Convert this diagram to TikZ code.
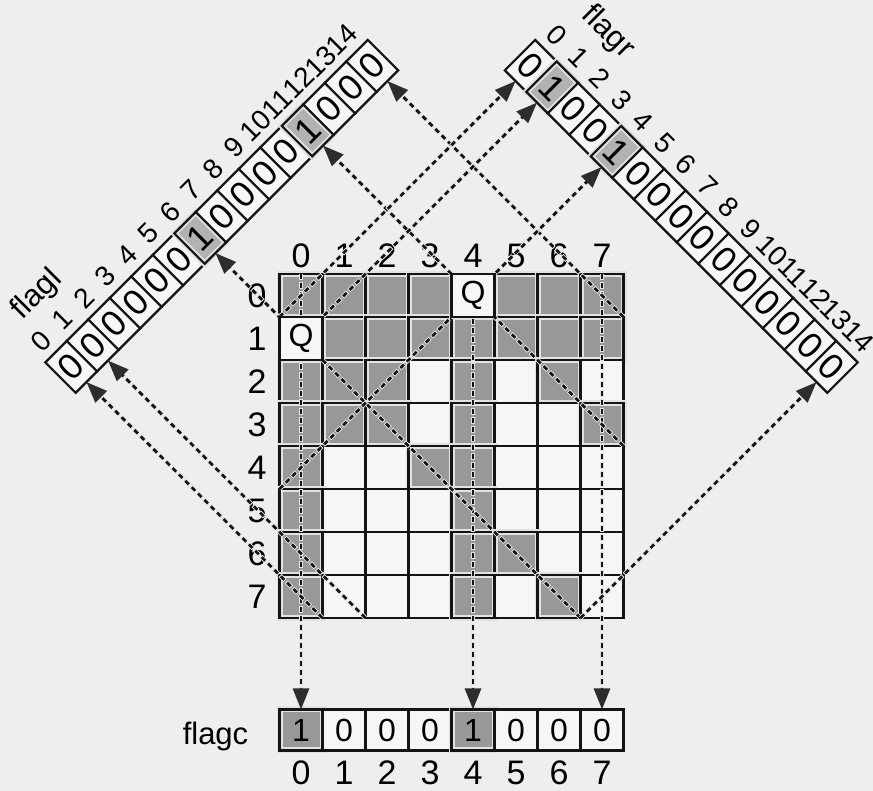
\documentclass[tikz,border=0pt]{standalone}
\usepackage{fontspec}
\setmainfont{Liberation Sans}
\usetikzlibrary{arrows.meta}
\pgfdeclarelayer{fg}
\pgfsetlayers{main,fg}
\definecolor{bgc}{RGB}{238,238,236}
\definecolor{cellw}{RGB}{246,246,244}
\definecolor{halo}{RGB}{226,226,224}
\definecolor{shadeg}{RGB}{152,152,152}
\definecolor{shadel}{RGB}{178,178,178}
\definecolor{ink}{RGB}{20,20,20}
\definecolor{arr}{RGB}{45,45,45}
\newcommand\fsz[1]{\fontsize{#1}{#1}\selectfont}
\tikzset{
  gcell/.style={draw=ink, line width=2.2pt, minimum width=43pt, minimum height=43pt, inner sep=0pt, outer sep=0pt},
  shaded/.style={fill=#1, draw=halo, line width=6pt, postaction={draw=ink, line width=2.2pt}},
  ct-s/.style={shaded=shadeg},
  ct-w/.style={fill=cellw},
  scell/.style={draw=ink, line width=2.2pt, minimum width=30.405pt, minimum height=43pt, inner sep=0pt, outer sep=0pt, font=\fsz{36}},
  ccell/.style={draw=ink, line width=2.2pt, minimum width=43pt, minimum height=41pt, inner sep=0pt, outer sep=0pt, font=\fsz{32}},
  sv-0/.style={fill=cellw},
  sv-1/.style={shaded=shadel},
  cv-0/.style={fill=cellw},
  cv-1/.style={shaded=shadeg},
  biglab/.style={font=\fsz{34}, inner sep=0pt},
  idxlab/.style={font=\fsz{28}, inner sep=0pt},
  namelab/.style={font=\fsz{31}, inner sep=0pt},
  dotl/.style={draw=ink, line width=2.7pt, dash pattern=on 5pt off 4pt,
    preaction={draw=halo, -, shorten >=21pt, line width=4.4pt, dash pattern=on 7pt off 2pt, dash phase=1pt},
    -{Triangle[width=16pt,length=21pt,color=arr]}},
}
\begin{document}
\begin{tikzpicture}[x=1pt,y=1pt]
\fill[bgc] (0,0) rectangle (873,791);
\useasboundingbox (0,0) rectangle (873,791);

% chessboard cells (queens drawn on top layer)
\foreach \gr/\types in {0/{s,s,s,s,q,s,s,s},1/{q,s,s,s,s,s,s,s},2/{s,s,s,w,s,w,s,w},3/{s,s,s,w,s,w,w,s},4/{s,w,w,s,s,w,w,w},5/{s,w,w,w,s,w,w,w},6/{s,w,w,w,s,s,w,w},7/{s,w,w,w,s,w,s,w}}{
  \foreach \typ [count=\gc from 0] in \types {
    \if\typ q\else
      \node[gcell, ct-\typ] (g-\gr-\gc) at ({301+43*\gc},{495.5-43*\gr}) {};
    \fi
  }
}
\begin{pgfonlayer}{fg}
  \node[gcell, fill=cellw, font=\fsz{32}] (g-0-4) at (473,495.5) {Q};
  \node[gcell, fill=cellw, font=\fsz{32}] (g-1-0) at (301,452.5) {Q};
\end{pgfonlayer}

% row and column labels
\foreach \k in {0,...,7} {
  \node[biglab] (cl-\k) at ({301+43*\k},535) {\k};
  \node[biglab] (rl-\k) at (257,{495.5-43*\k}) {\k};
}

% flagl strip
\foreach \val [count=\k from 0] in {0,0,0,0,0,0,1,0,0,0,0,1,0,0,0} {
  \node[scell, rotate=45, sv-\val] (L-\k) at ({221.75+(\k-7)*21.5},{574.6+(\k-7)*21.5}) {\val};
  \node[idxlab, rotate=45] (Ll-\k) at ({221.75+(\k-7)*21.5-30.3},{574.6+(\k-7)*21.5+26.2}) {\k};
}
\node[namelab, rotate=45] (nameL) at (37.25,496.1) {flagl};

% flagr strip
\foreach \val [count=\k from 0] in {0,1,0,0,1,0,0,0,0,0,0,0,0,0,0} {
  \node[scell, rotate=-45, sv-\val] (R-\k) at ({681.25+(\k-7)*21.5},{574.6-(\k-7)*21.5}) {\val};
  \node[idxlab, rotate=-45] (Rl-\k) at ({681.25+(\k-7)*21.5+26.2},{574.6-(\k-7)*21.5+30.3}) {\k};
}
\node[namelab, rotate=-45] (nameR) at (607.75,758.5) {flagr};

% flagc array
\foreach \val [count=\k from 0] in {1,0,0,0,1,0,0,0} {
  \node[ccell, cv-\val] (C-\k) at ({301+43*\k},61) {\val};
  \node[biglab] (Cl-\k) at ({301+43*\k},18) {\k};
}
\node[namelab] (nameC) at (215.5,55) {flagc};

% connectors: columns
\draw[dotl] (g-0-0.north) -- (C-0.north);
\draw[dotl] (g-0-4.north) -- (C-4.north);
\draw[dotl] (g-0-7.north) -- (C-7.north);
% connectors: diagonals to flagl
\draw[dotl] (g-0-7.south east) -- (L-14.south);
\draw[dotl] (g-3-7.south east) -- (L-11.south);
\draw[dotl] (g-7-6.south east) -- (L-6.south);
\draw[dotl] (g-7-1.south east) -- (L-1.south);
\draw[dotl] (g-7-0.south east) -- (L-0.south);
% connectors: anti-diagonals to flagr
\draw[dotl] (g-0-0.south west) -- (R-0.south);
\draw[dotl] (g-1-0.south west) -- (R-1.south);
\draw[dotl] (g-4-0.south west) -- (R-4.south);
\draw[dotl] (g-7-7.south west) -- (R-14.south);
\end{tikzpicture}
\end{document}
